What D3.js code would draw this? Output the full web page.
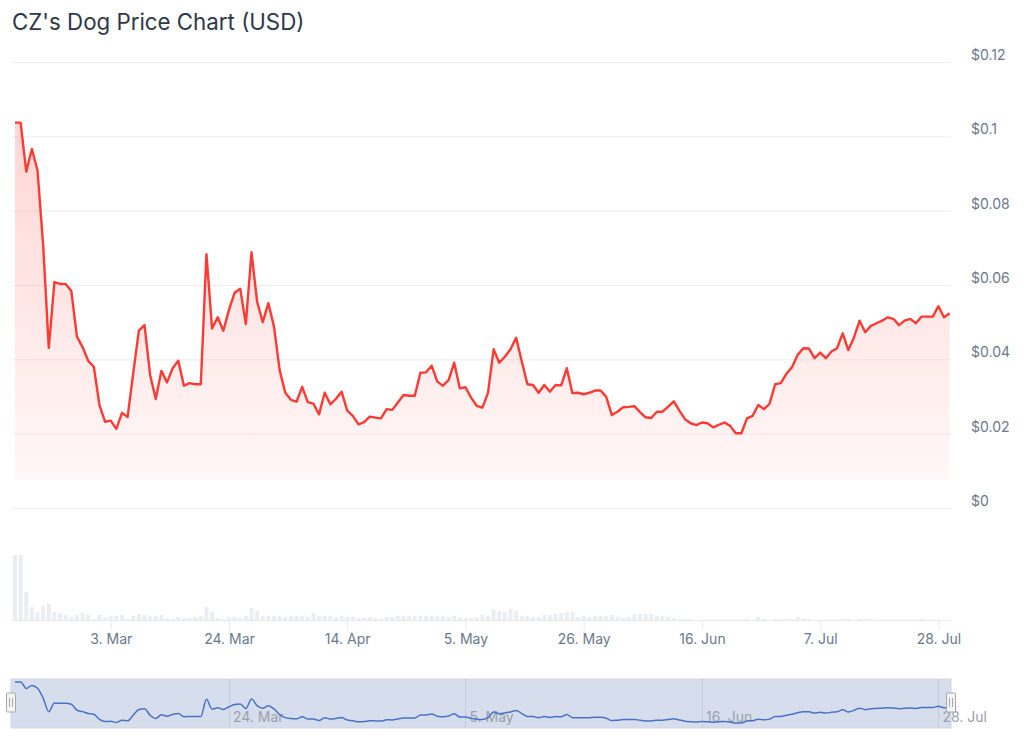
<!DOCTYPE html>
<html lang="en">
<head>
<meta charset="UTF-8">
<script src="https://d3js.org/d3.v7.min.js"></script>
<title>CZ's Dog Price Chart</title>
<style>
  body { margin: 0; background: #fff; }
  text { font-family: Inter, "Noto Sans", sans-serif; }
</style>
</head>
<body>
<svg width="1024" height="747"></svg>
<script>
// daily closing price in USD, starting 15 Feb 2024
const startDay = '2024-02-15';
const price = [
  0.1037,0.1037,0.0905,0.0966,0.0908,0.0708,0.0431,0.0608,0.0603,0.0603,
  0.0584,0.0461,0.0433,0.0396,0.0380,0.0277,0.0232,0.0235,0.0213,0.0256,
  0.0245,0.0363,0.0477,0.0492,0.0358,0.0293,0.0369,0.0338,0.0376,0.0396,
  0.0329,0.0336,0.0333,0.0333,0.0683,0.0483,0.0513,0.0477,0.0533,0.0579,
  0.0590,0.0495,0.0688,0.0555,0.0500,0.0551,0.0488,0.0371,0.0310,0.0291,
  0.0286,0.0326,0.0285,0.0281,0.0252,0.0310,0.0279,0.0294,0.0313,0.0262,
  0.0248,0.0225,0.0231,0.0246,0.0243,0.0241,0.0266,0.0264,0.0284,0.0304,
  0.0302,0.0302,0.0364,0.0365,0.0383,0.0340,0.0329,0.0344,0.0391,0.0322,
  0.0325,0.0297,0.0275,0.0270,0.0309,0.0427,0.0391,0.0407,0.0427,0.0458,
  0.0394,0.0333,0.0331,0.0310,0.0331,0.0313,0.0331,0.0330,0.0376,0.0309,
  0.0310,0.0306,0.0310,0.0316,0.0316,0.0299,0.0250,0.0259,0.0271,0.0272,
  0.0274,0.0258,0.0244,0.0242,0.0259,0.0259,0.0273,0.0287,0.0262,0.0239,
  0.0228,0.0223,0.0230,0.0228,0.0217,0.0224,0.0230,0.0221,0.0201,0.0201,
  0.0241,0.0248,0.0277,0.0266,0.0280,0.0333,0.0336,0.0361,0.0379,0.0412,
  0.0430,0.0429,0.0403,0.0418,0.0403,0.0421,0.0430,0.0470,0.0425,0.0459,
  0.0504,0.0473,0.0490,0.0497,0.0504,0.0513,0.0509,0.0492,0.0504,0.0509,
  0.0497,0.0515,0.0515,0.0515,0.0543,0.0513,0.0524
];
// daily volume, relative units
const volume = [
  65,65,28,13,8,14,16,8,7,5, 3,5,7,5,1,5,3,4,4,5, 1,4,6,5,4,4,5,2,1,3,
  2,2,3,4,13,8,2,1,3,3, 2,4,12,9,4,4,4,4,3,4, 4,4,3,7,4,4,4,3,4,3,
  3,2,2,3,2,1,3,3,4,4, 4,4,4,4,4,4,4,3,4,3, 2,2,3,5,4,11,9,8,11,9,
  4,4,3,3,5,5,6,7,8,8, 3,4,3,4,4,4,5,3,2,3, 6,6,6,6,4,4,3,2,1,1, 1,
  0,0,0,0,0,0,0,0,0, 1,0,3,1.5,0,1,1,1,1,3,1.5,1, 0,0,0,0,0, 1,1,0,1,1,1,
  0,0,0,0,0,0,0,0, 1, 0,0,0,0,0
];
const yTicks = [0, 0.02, 0.04, 0.06, 0.08, 0.1, 0.12];
const yTickLabels = ['$0', '$0.02', '$0.04', '$0.06', '$0.08', '$0.1', '$0.12'];
const xTickDays = ['2024-03-03','2024-03-24','2024-04-14','2024-05-05','2024-05-26','2024-06-16','2024-07-07','2024-07-28'];
const navTickDays = ['2024-03-24','2024-05-05','2024-06-16','2024-07-28'];

const parse = d3.timeParse('%Y-%m-%d');
const fmt = d3.timeFormat('%-d. %b');
const t0 = parse(startDay);
const dates = price.map((d, i) => d3.timeDay.offset(t0, i));

const svg = d3.select('svg');

// title
svg.append('text')
  .attr('x', 12).attr('y', 30)
  .attr('font-size', 22.3)
  .attr('fill', '#2f3747')
  .text("CZ's Dog Price Chart (USD)");

// scales
const x = d3.scaleTime().domain(d3.extent(dates)).range([15, 949.7]);
const y = d3.scaleLinear().domain([0, 0.12]).range([508, 62]);
const yVol = d3.scaleLinear().domain([0, d3.max(volume)]).range([620, 555]);

// grid + y labels
svg.append('g').selectAll('line')
  .data(yTicks).enter().append('line')
  .attr('x1', 12).attr('x2', 951)
  .attr('y1', d => y(d) + 0.5).attr('y2', d => y(d) + 0.5)
  .attr('stroke', '#ededed');

svg.append('g').selectAll('text')
  .data(yTicks).enter().append('text')
  .attr('x', 971)
  .attr('y', d => y(d) - 2)
  .attr('font-size', 14)
  .attr('fill', '#6b778c')
  .text((d, i) => yTickLabels[i]);

// volume bars
svg.append('g').selectAll('rect')
  .data(volume).enter().append('rect')
  .attr('x', (d, i) => x(dates[i]) - 2)
  .attr('width', 4)
  .attr('y', d => yVol(d))
  .attr('height', d => 620 - yVol(d))
  .attr('fill', '#eaedf2');

// area gradient
const defs = svg.append('defs');
const grad = defs.append('linearGradient')
  .attr('id', 'redFade')
  .attr('gradientUnits', 'userSpaceOnUse')
  .attr('x1', 0).attr('x2', 0).attr('y1', 100).attr('y2', 480);
grad.append('stop').attr('offset', 0).attr('stop-color', '#ff3a33').attr('stop-opacity', 0.22);
grad.append('stop').attr('offset', 1).attr('stop-color', '#ff3a33').attr('stop-opacity', 0.04);

const area = d3.area()
  .x((d, i) => x(dates[i]))
  .y0(480)
  .y1(d => y(d));
svg.append('path')
  .datum(price)
  .attr('d', area)
  .attr('fill', 'url(#redFade)');

const line = d3.line()
  .x((d, i) => x(dates[i]))
  .y(d => y(d));
svg.append('path')
  .datum(price)
  .attr('d', line)
  .attr('fill', 'none')
  .attr('stroke', '#ff3a33')
  .attr('stroke-width', 2.4)
  .attr('stroke-linejoin', 'round');

// x axis
const xAxis = svg.append('g')
  .attr('transform', 'translate(0,620)')
  .call(d3.axisBottom(x)
    .tickValues(xTickDays.map(parse))
    .tickFormat(fmt)
    .tickSize(10)
    .tickPadding(4));
xAxis.select('.domain').remove();
xAxis.selectAll('.tick line').attr('stroke', '#e6e9ee');
xAxis.selectAll('.tick text')
  .attr('font-size', 14)
  .attr('font-family', 'Inter, "Noto Sans", sans-serif')
  .attr('fill', '#6b778c');
svg.append('line')
  .attr('x1', 12).attr('x2', 951)
  .attr('y1', 620.5).attr('y2', 620.5)
  .attr('stroke', '#e6e9ee');

// navigator
const navTop = 679, navBot = 728;
const yNav = d3.scaleLinear().domain(d3.extent(price)).range([723, 682]);
const nav = svg.append('g');
nav.append('rect')
  .attr('x', 11).attr('y', navTop)
  .attr('width', 940).attr('height', navBot - navTop)
  .attr('fill', 'rgba(102,133,194,0.27)')
  .attr('stroke', '#cfd6e4');
nav.selectAll('.navgrid')
  .data(navTickDays.map(parse)).enter().append('line')
  .attr('x1', d => Math.round(x(d)) + 0.5).attr('x2', d => Math.round(x(d)) + 0.5)
  .attr('y1', navTop).attr('y2', navBot)
  .attr('stroke', '#c4ccda');
nav.selectAll('.navlabel')
  .data(navTickDays.map(parse)).enter().append('text')
  .attr('x', d => x(d) + 4)
  .attr('y', 722)
  .attr('font-size', 14)
  .attr('fill', '#9aa0aa')
  .text(fmt);
nav.append('path')
  .datum(price)
  .attr('d', d3.line().curve(d3.curveMonotoneX).x((d, i) => x(dates[i])).y(d => yNav(d)))
  .attr('fill', 'none')
  .attr('stroke', '#4b72c2')
  .attr('stroke-width', 1.5);

// handles
[11, 951].forEach(hx => {
  const h = nav.append('g').attr('transform', `translate(${hx},703)`);
  h.append('rect')
    .attr('x', -4.5).attr('y', -10).attr('width', 9).attr('height', 19)
    .attr('fill', '#f4f4f4').attr('stroke', '#a9a9a9').attr('rx', 1);
  [-1.5, 1.5].forEach(dx => {
    h.append('line')
      .attr('x1', dx).attr('x2', dx).attr('y1', -5).attr('y2', 4)
      .attr('stroke', '#a9a9a9');
  });
});
</script>
</body>
</html>
